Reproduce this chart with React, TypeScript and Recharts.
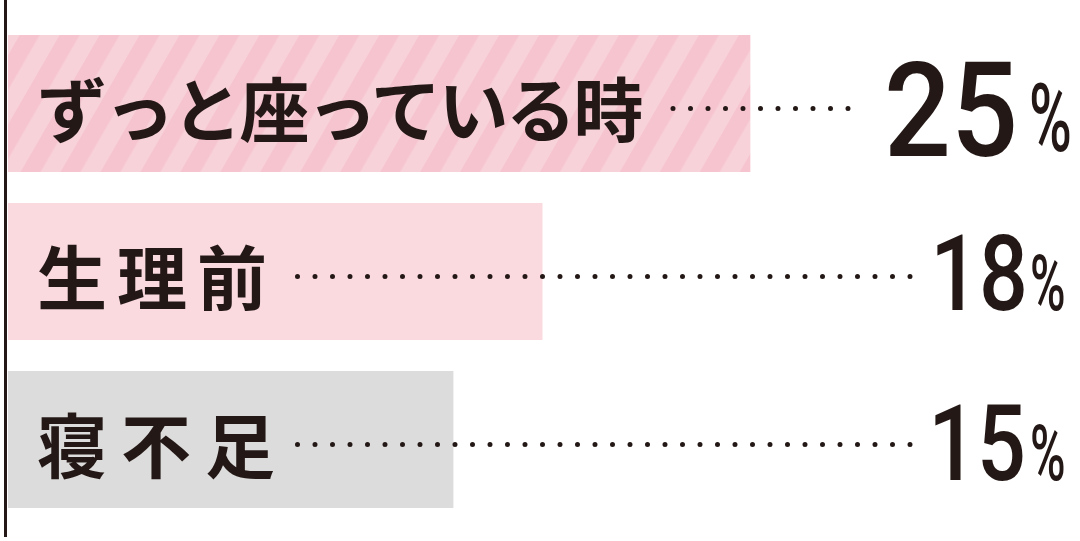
import { useLayoutEffect, useRef, useState } from "react";
import { Bar, BarChart, Cell, LabelList, XAxis, YAxis } from "recharts";

const categories = ["ずっと座っている時", "生理前", "寝不足"];
const values = [25, 18, 15];
const unit = "%";

const INK = "#231815";
const barFills = ["url(#pinkStripe)", "#fadadf", "#dcdcdc"];

// first row is the headline one, drawn larger
const rowStyles = [
  { labelSpacing: -2.5, digitSize: 131, digitScale: 0.9, pctSize: 94, digitRight: 1018, pctLeft: 1029, digitDy: 52, pctDy: 47, leaderEnd: 848 },
  { labelSpacing: 10, digitSize: 105, digitScale: 0.82, pctSize: 78, digitRight: 1028, pctLeft: 1030, digitDy: 38, pctDy: 38, leaderEnd: 910 },
  { labelSpacing: 14, digitSize: 105, digitScale: 0.82, pctSize: 78, digitRight: 1026, pctLeft: 1030, digitDy: 40, pctDy: 40, leaderEnd: 910 },
];

const data = categories.map((name, i) => ({ name, value: values[i] }));

function RowLabel(props: any) {
  const index: number = props.index ?? 0;
  const vb = props.viewBox ?? props;
  const x: number = vb.x ?? 0;
  const y: number = vb.y ?? 0;
  const h: number = vb.height ?? 0;
  const cy = y + h / 2;
  const s = rowStyles[index];
  const textRef = useRef<SVGTextElement>(null);
  const [textEnd, setTextEnd] = useState<number | null>(null);

  useLayoutEffect(() => {
    if (!textRef.current) return;
    const box = textRef.current.getBBox();
    setTextEnd(box.x + box.width - Math.max(s.labelSpacing, 0));
  }, [index, x]);

  const step = 17.5;
  let leader = null;
  if (textEnd != null) {
    const n = Math.round((s.leaderEnd - (textEnd + 28)) / step);
    const start = s.leaderEnd - n * step;
    leader = (
      <line
        x1={start}
        x2={s.leaderEnd + 0.1}
        y1={cy + 5}
        y2={cy + 5}
        stroke={INK}
        strokeWidth={5}
        strokeLinecap="round"
        strokeDasharray={`0 ${step}`}
      />
    );
  }

  return (
    <g>
      <text
        ref={textRef}
        x={x + 29}
        y={cy + 3}
        dominantBaseline="central"
        fill={INK}
        fontFamily="'Noto Sans CJK JP', sans-serif"
        fontWeight={700}
        fontSize={70}
        letterSpacing={s.labelSpacing}
      >
        {categories[index]}
      </text>
      {leader}
      <text
        transform={`translate(${s.digitRight},${cy + s.digitDy}) scale(${s.digitScale},1)`}
        textAnchor="end"
        fill={INK}
        fontFamily="Roboto, sans-serif"
        fontWeight={500}
        fontSize={s.digitSize}
      >
        {values[index]}
      </text>
      <text
        transform={`translate(${s.pctLeft},${cy + s.pctDy}) scale(0.62,1)`}
        fill={INK}
        fontFamily="Roboto, sans-serif"
        fontWeight={500}
        fontSize={s.pctSize}
      >
        {unit}
      </text>
    </g>
  );
}

export default function App() {
  return (
    <div style={{ position: "absolute", left: 0, top: 0, width: 1080, height: 541, background: "#fff" }}>
      <BarChart
        width={1080}
        height={541}
        data={data}
        layout="vertical"
        margin={{ top: 0, right: 3, bottom: 4, left: 0 }}
      >
        <defs>
          <pattern
            id="pinkStripe"
            patternUnits="userSpaceOnUse"
            width={34.6}
            height={34.6}
            patternTransform="rotate(30)"
          >
            <rect width={34.6} height={34.6} fill="#f8d2d9" />
            <rect width={17.3} height={34.6} fill="#f6c4ce" />
          </pattern>
        </defs>
        <XAxis type="number" domain={[-0.084, 36]} allowDataOverflow hide />
        <YAxis
          type="category"
          dataKey="name"
          width={5.5}
          tick={false}
          tickLine={false}
          axisLine={{ stroke: INK, strokeWidth: 3 }}
          padding={{ top: 19, bottom: 14 }}
        />
        <Bar dataKey="value" barSize={137} isAnimationActive={false}>
          {data.map((d, i) => (
            <Cell key={d.name} fill={barFills[i]} />
          ))}
          <LabelList dataKey="value" content={<RowLabel />} />
        </Bar>
      </BarChart>
    </div>
  );
}
